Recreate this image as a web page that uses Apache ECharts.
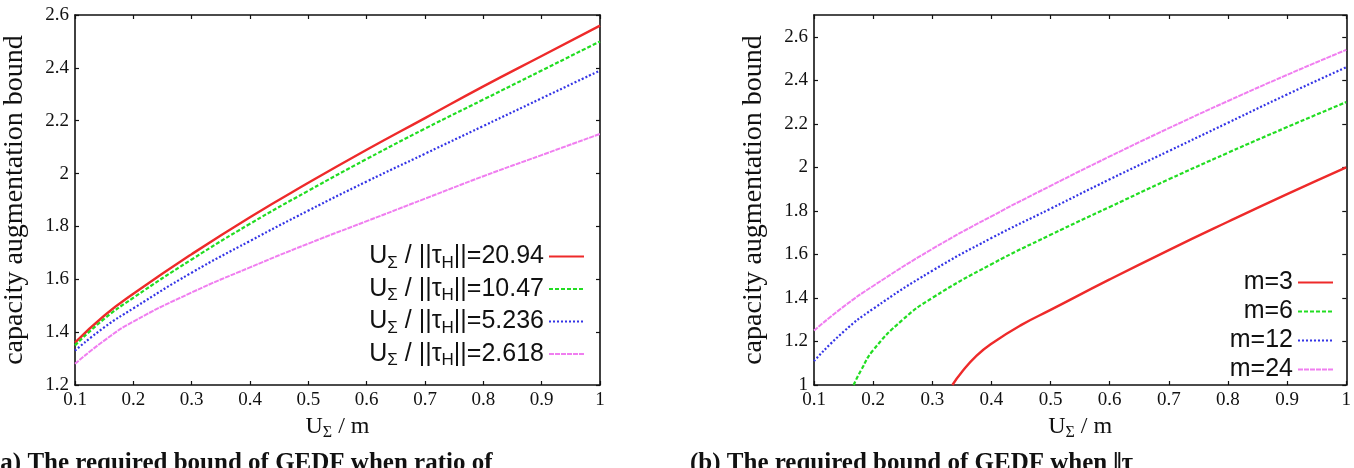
<!DOCTYPE html>
<html>
<head>
<meta charset="utf-8">
<script src="https://cdn.jsdelivr.net/npm/echarts@6/dist/echarts.min.js"></script>
<style>
  html, body { margin: 0; padding: 0; background: #fff; }
  #chart { width: 1354px; height: 468px; }
</style>
</head>
<body>
<div id="chart"></div>
<script>
// left panel: bound vs U_sum/m for several U_sum/||tau_H|| ratios
const xLeft = [0.1, 0.15, 0.2, 0.3, 0.4, 0.5, 0.6, 0.7, 0.8, 0.9, 1.0];
const ratioNames = ["20.94", "10.47", "5.236", "2.618"];
const ratio2094 = [1.36, 1.462, 1.545, 1.695, 1.835, 1.965, 2.09, 2.21, 2.33, 2.445, 2.56];
const ratio1047 = [1.35, 1.45, 1.53, 1.675, 1.81, 1.935, 2.055, 2.17, 2.28, 2.39, 2.50];
const ratio5236 = [1.33, 1.418, 1.49, 1.625, 1.745, 1.86, 1.97, 2.075, 2.18, 2.285, 2.39];
const ratio2618 = [1.28, 1.368, 1.44, 1.55, 1.645, 1.735, 1.82, 1.905, 1.99, 2.07, 2.15];

// right panel: bound vs U_sum/m for several m
const mNames = ["m=3", "m=6", "m=12", "m=24"];
const xM3 = [0.334, 0.35, 0.375, 0.4, 0.45, 0.5, 0.6, 0.7, 0.8, 0.9, 1.0];
const yM3 = [1.0, 1.06, 1.135, 1.19, 1.275, 1.345, 1.485, 1.62, 1.75, 1.877, 2.0];
const xM6 = [0.167, 0.18, 0.2, 0.25, 0.3, 0.4, 0.5, 0.6, 0.7, 0.8, 0.9, 1.0];
const yM6 = [1.0, 1.07, 1.16, 1.30, 1.40, 1.555, 1.69, 1.818, 1.945, 2.067, 2.185, 2.30];
const xRight = [0.1, 0.15, 0.2, 0.3, 0.4, 0.5, 0.6, 0.7, 0.8, 0.9, 1.0];
const yM12 = [1.11, 1.245, 1.35, 1.525, 1.675, 1.81, 1.945, 2.075, 2.205, 2.335, 2.46];
const yM24 = [1.25, 1.36, 1.455, 1.625, 1.775, 1.915, 2.05, 2.18, 2.305, 2.425, 2.54];

const lineColors = ["#ee2a2a", "#22dd22", "#3434e6", "#f07ef0"];
const lineTypes = ["solid", [4, 2], [2, 2], [5, 1]];
const lineWidths = [2.4, 2.2, 2.2, 2];

const serif = "Liberation Serif";
const sans = "Liberation Sans";

function zip(xs, ys) {
  return xs.map((x, i) => [x, ys[i]]);
}

function makeSeries(name, data, idx, axisIdx) {
  return {
    name: name,
    type: "line",
    xAxisIndex: axisIdx,
    yAxisIndex: axisIdx,
    data: data,
    smooth: 0.5,
    symbol: "none",
    clip: true,
    lineStyle: { color: lineColors[idx], width: lineWidths[idx], type: lineTypes[idx] },
    itemStyle: { color: lineColors[idx] },
  };
}

const tickStyle = { show: true, inside: true, length: 4, lineStyle: { color: "#111", width: 1.2 } };
const frameLine = { show: true, onZero: false, lineStyle: { color: "#111", width: 1.6 } };

function bottomAxis(gridIndex) {
  return {
    type: "value",
    gridIndex: gridIndex,
    min: 0.1,
    max: 1,
    interval: 0.1,
    position: "bottom",
    name: "{n|U}{s|Σ}{n| / m}",
    nameLocation: "middle",
    nameGap: 28,
    nameTextStyle: {
      rich: {
        n: { fontFamily: serif, fontSize: 24, color: "#111", lineHeight: 28 },
        s: { fontFamily: serif, fontSize: 16, color: "#111", lineHeight: 15, verticalAlign: "bottom" },
      },
    },
    axisLine: frameLine,
    axisTick: tickStyle,
    axisLabel: { color: "#111", fontFamily: serif, fontSize: 19, margin: 6 },
    splitLine: { show: false },
  };
}

function topAxis(gridIndex) {
  return {
    type: "value",
    gridIndex: gridIndex,
    min: 0.1,
    max: 1,
    interval: 0.1,
    position: "top",
    axisLine: frameLine,
    axisTick: tickStyle,
    axisLabel: { show: false },
    splitLine: { show: false },
  };
}

function leftAxis(gridIndex, min, max) {
  return {
    type: "value",
    gridIndex: gridIndex,
    min: min,
    max: max,
    interval: 0.2,
    position: "left",
    name: "capacity augmentation bound",
    nameLocation: "middle",
    nameGap: 46,
    nameTextStyle: { fontFamily: serif, fontSize: 28, color: "#111" },
    axisLine: frameLine,
    axisTick: tickStyle,
    axisLabel: { color: "#111", fontFamily: serif, fontSize: 19, margin: 6, showMaxLabel: max === 2.6 },
    splitLine: { show: false },
  };
}

function rightAxis(gridIndex, min, max) {
  return {
    type: "value",
    gridIndex: gridIndex,
    min: min,
    max: max,
    interval: 0.2,
    position: "right",
    axisLine: frameLine,
    axisTick: tickStyle,
    axisLabel: { show: false },
    splitLine: { show: false },
  };
}

const legendRichLeft = {
  n: { fontFamily: sans, fontSize: 25, color: "#111", lineHeight: 30 },
  s: { fontFamily: sans, fontSize: 17, color: "#111", lineHeight: 16, verticalAlign: "bottom" },
};

// hide the marker the line legend icon adds, keep only the line sample
const hiddenMarker = { color: "rgba(0,0,0,0)", borderWidth: 0, opacity: 0 };

const chart = echarts.init(document.getElementById("chart"), null, { renderer: "canvas" });

chart.setOption({
  backgroundColor: "#fff",
  animation: false,
  grid: [
    { left: 65, right: 754, top: 15, bottom: 83, containLabel: false },
    { left: 814, right: 7, top: 15, bottom: 83, containLabel: false },
  ],
  xAxis: [bottomAxis(0), bottomAxis(1), topAxis(0), topAxis(1)],
  yAxis: [leftAxis(0, 1.2, 2.6), leftAxis(1, 1, 2.7), rightAxis(0, 1.2, 2.6), rightAxis(1, 1, 2.7)],
  legend: [
    {
      data: ratioNames,
      orient: "vertical",
      align: "right",
      right: 769,
      top: 244,
      padding: 0,
      itemWidth: 35,
      itemHeight: 12,
      itemGap: 5,
      itemStyle: hiddenMarker,
      formatter: (name) => "{n|U}{s|Σ}{n| / ||τ}{s|H}{n|||=" + name + "}",
      textStyle: { rich: legendRichLeft },
    },
    {
      data: mNames,
      orient: "vertical",
      align: "right",
      right: 20,
      top: 270,
      padding: 0,
      itemWidth: 35,
      itemHeight: 12,
      itemGap: 4,
      itemStyle: hiddenMarker,
      textStyle: { fontFamily: sans, fontSize: 25, color: "#111", lineHeight: 24 },
    },
  ],
  series: [
    makeSeries(ratioNames[0], zip(xLeft, ratio2094), 0, 0),
    makeSeries(ratioNames[1], zip(xLeft, ratio1047), 1, 0),
    makeSeries(ratioNames[2], zip(xLeft, ratio5236), 2, 0),
    makeSeries(ratioNames[3], zip(xLeft, ratio2618), 3, 0),
    makeSeries(mNames[0], zip(xM3, yM3), 0, 1),
    makeSeries(mNames[1], zip(xM6, yM6), 1, 1),
    makeSeries(mNames[2], zip(xRight, yM12), 2, 1),
    makeSeries(mNames[3], zip(xRight, yM24), 3, 1),
  ],
  graphic: [
    {
      type: "text",
      left: -8,
      top: 451,
      style: { text: "(a) The required bound of GEDF when ratio of", fontFamily: serif, fontSize: 25, fontWeight: "bold", fill: "#111" },
    },
    {
      type: "text",
      left: 690,
      top: 451,
      style: { text: "(b) The required bound of GEDF when ‖τ", fontFamily: serif, fontSize: 25, fontWeight: "bold", fill: "#111" },
    },
  ],
});
</script>
</body>
</html>
